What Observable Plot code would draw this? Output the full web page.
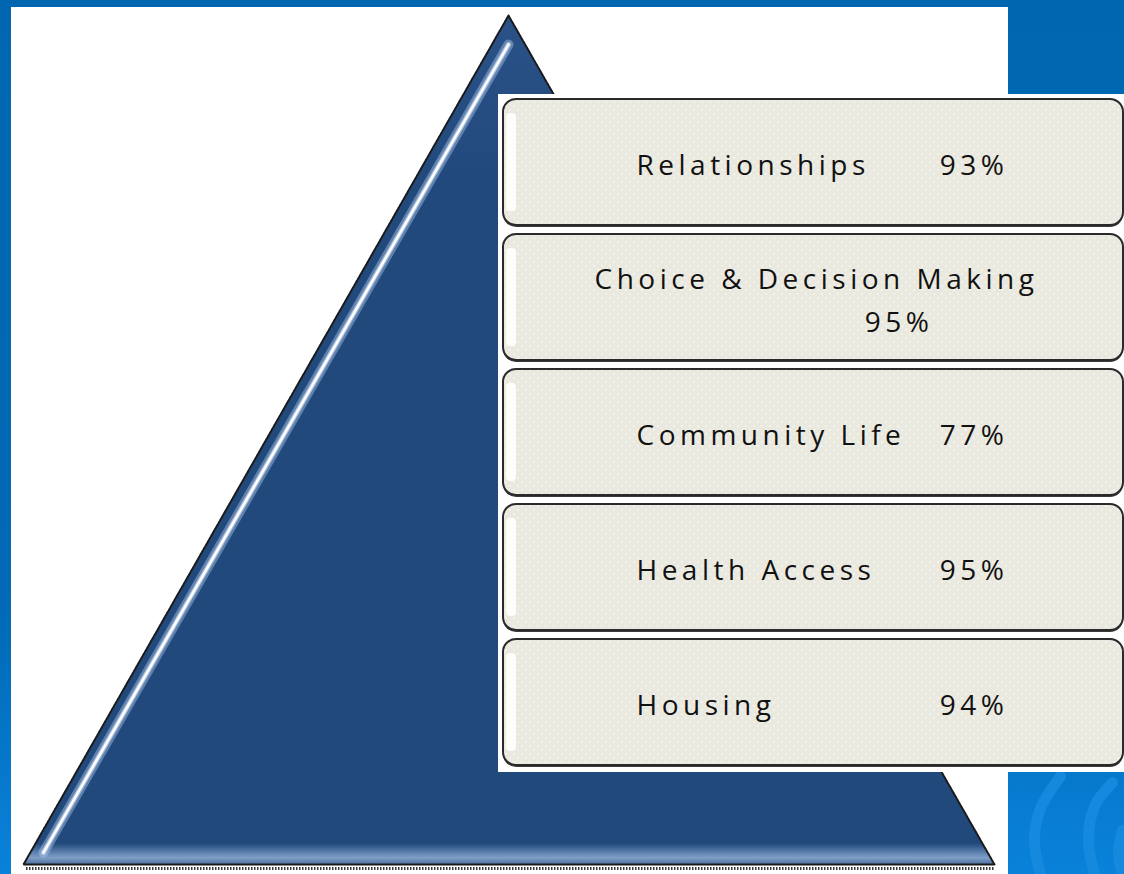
<!DOCTYPE html>
<html><head><meta charset="utf-8">
<script src="https://cdn.jsdelivr.net/npm/d3@7"></script>
<script src="https://cdn.jsdelivr.net/npm/@observablehq/plot@0.6"></script>
<style>
html,body{margin:0;padding:0;background:#0067b2;overflow:hidden}
#wrap{position:relative;width:1124px;height:874px}
#wrap svg{position:absolute;left:0;top:0}
</style></head><body><div id="wrap"></div>
<script>
// ---- data ----
const categories = ["Relationships", "Choice & Decision Making", "Community Life", "Health Access", "Housing"];
const values = [93, 95, 77, 95, 94];

// ---- layout ----
const W = 1124, H = 874;
const boxes = categories.map((c, i) => ({category: c, value: values[i], wrap: c.length > 16}));

// decorative pyramid geometry (page units)
const tri = [{x: 508, y: 15}, {x: 994, y: 864}, {x: 23, y: 864}, {x: 508, y: 15}];
const hl = [{x: 508, y: 44}, {x: 43, y: 852}];
const rect = (x1, x2, y1, y2) => [{x1, x2, y1, y2}];
const R = {x1: "x1", x2: "x2", y1: "y1", y2: "y2"};
const arcs = [
  [{x: 1040, y: 874}, {x: 1034, y: 840}, {x: 1040, y: 808}, {x: 1060, y: 776}],
  [{x: 1094, y: 874}, {x: 1088, y: 840}, {x: 1094, y: 806}, {x: 1112, y: 782}],
  [{x: 1122, y: 830}, {x: 1118, y: 852}, {x: 1122, y: 874}]
];

const frame = Plot.plot({
  width: W, height: H, margin: 0,
  x: {domain: [0, W], range: [0, W], axis: null},
  y: {domain: [0, H], range: [0, H], axis: null},
  style: {background: "transparent", overflow: "visible"},
  marks: [
    Plot.rect(rect(0, W, 0, H), {...R, fill: "url(#bgGrad)"}),
    ...arcs.map(a => Plot.line(a, {x: "x", y: "y", stroke: "#1489de", strokeWidth: 11, curve: "catmull-rom"})),
    Plot.rect(rect(11, 1008, 7, H), {...R, fill: "white"}),
    Plot.ruleY([868], {x1: 26, x2: 994, stroke: "#3a3a3a", strokeWidth: 3, strokeDasharray: "1.5 1.5"}),
    Plot.line(tri, {x: "x", y: "y", fill: "url(#triGrad)", stroke: "#1a1a1a", strokeWidth: 2, strokeDasharray: "2.5 1.2"}),
    Plot.line(hl, {x: "x", y: "y", stroke: "#a9c6ea", strokeWidth: 10, strokeOpacity: 0.45}),
    Plot.line(hl, {x: "x", y: "y", stroke: "#dfeafa", strokeWidth: 5, strokeOpacity: 0.6}),
    Plot.line(hl, {x: "x", y: "y", stroke: "white", strokeWidth: 2.5}),
    Plot.rect(rect(498, W, 94, 772), {...R, fill: "white"})
  ]
});

const chart = Plot.plot({
  width: W, height: H, margin: 0,
  x: {domain: [0, W], range: [0, W], axis: null},
  y: {type: "band", domain: categories, range: [98, 766], paddingInner: 0.065, paddingOuter: 0, axis: null},
  style: {background: "transparent", fontFamily: "'Open Sans', sans-serif", color: "#111"},
  marks: [
    Plot.barX(boxes, {y: "category", x1: 503, x2: 1123, fill: "#3a3a3a", rx: 13, dy: 2}),
    Plot.barX(boxes, {y: "category", x1: 503, x2: 1123, fill: "url(#dots)", stroke: "#2a2a2a", strokeWidth: 2, rx: 13}),
    Plot.barX(boxes, {y: "category", x1: 506, x2: 516, insetTop: 14, insetBottom: 14, fill: "white", fillOpacity: 0.9, rx: 4}),
    Plot.text(boxes.filter(d => !d.wrap), {y: "category", x: 636, text: "category", textAnchor: "start", fontSize: 28, dy: 4, fill: "#111"}),
    Plot.text(boxes.filter(d => !d.wrap), {y: "category", x: 1008, text: d => d.value + "%", textAnchor: "end", fontSize: 28, dy: 4, fill: "#111"}),
    Plot.text(boxes.filter(d => d.wrap), {y: "category", x: 594, text: "category", textAnchor: "start", fontSize: 28, dy: -17.5, fill: "#111"}),
    Plot.text(boxes.filter(d => d.wrap), {y: "category", x: 933, text: d => d.value + "%", textAnchor: "end", fontSize: 28, dy: 25.5, fill: "#111"})
  ]
});

// defs: gradients & dot pattern
const defs = d3.select(frame).insert("defs", ":first-child");
const bg = defs.append("linearGradient").attr("id", "bgGrad").attr("x1", 0).attr("y1", 0).attr("x2", 0).attr("y2", 1);
bg.append("stop").attr("offset", "0").attr("stop-color", "#0066b0");
bg.append("stop").attr("offset", "0.7").attr("stop-color", "#006ab6");
bg.append("stop").attr("offset", "1").attr("stop-color", "#0a82da");
const tg = defs.append("linearGradient").attr("id", "triGrad").attr("x1", 0).attr("y1", 0).attr("x2", 0).attr("y2", 1);
tg.append("stop").attr("offset", "0").attr("stop-color", "#2a5288");
tg.append("stop").attr("offset", "0.2").attr("stop-color", "#22497c");
tg.append("stop").attr("offset", "0.975").attr("stop-color", "#21497c");
tg.append("stop").attr("offset", "0.992").attr("stop-color", "#7f9fc8");
tg.append("stop").attr("offset", "1").attr("stop-color", "#4a6e9c");

const defs2 = d3.select(chart).insert("defs", ":first-child");
const pat = defs2.append("pattern").attr("id", "dots").attr("patternUnits", "userSpaceOnUse").attr("width", 8).attr("height", 8);
pat.append("rect").attr("width", 8).attr("height", 8).attr("fill", "#eae9df");
pat.append("circle").attr("cx", 2).attr("cy", 2).attr("r", 0.9).attr("fill", "#f8f7f2");
pat.append("circle").attr("cx", 6).attr("cy", 6).attr("r", 0.9).attr("fill", "#f8f7f2");

d3.select(chart).selectAll("text").attr("letter-spacing", "4.5");

const wrap = document.getElementById("wrap");
wrap.appendChild(frame);
wrap.appendChild(chart);
</script></body></html>
